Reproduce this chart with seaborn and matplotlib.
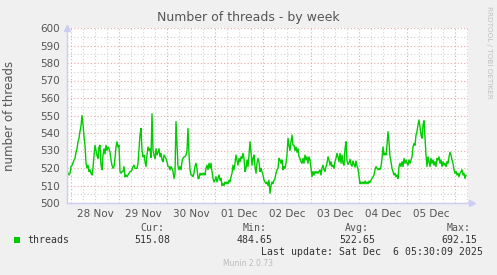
import numpy as np
import pandas as pd
import matplotlib
matplotlib.use("Agg")
import matplotlib.pyplot as plt
import matplotlib.dates as mdates
from matplotlib.ticker import MultipleLocator, NullFormatter
from matplotlib.patches import Rectangle
import seaborn as sns

# ---------------- data (30-minute samples) ----------------
start_time = "2025-11-27 22:00"
threads = [
    519, 517, 516, 517, 520.8, 521.5, 523, 524.5, 525.5, 529, 531, 535, 537, 541, 544, 550,
    545, 538, 533, 522.7, 520, 521.6, 518, 519, 517, 516, 520, 527, 533, 530, 527, 525.5,
    532, 533, 521.6, 519, 527.4, 531, 528, 533, 530, 532, 531, 529, 524.6, 521.6, 519.8, 520.8,
    525.5, 532, 535, 532, 533, 518, 517, 518, 518, 520.8, 515, 516, 515, 516, 517, 518,
    518, 519, 520.8, 521.6, 519.8,
    # crop 2
    519.8, 519.8, 522.7, 531, 538.8, 542.6, 530, 526.4, 527.4, 523.6, 520.8, 527.4, 532, 530,
    531, 526, 551, 530, 527.4, 525.5, 531, 527.4, 529, 531, 526.4, 528.4, 524.6, 523.6, 527.4,
    526.4, 525.5, 523.6, 520.8, 520.8, 519, 520.8, 519.8, 518, 514, 517, 546.5, 533, 521, 519,
    520.8, 519, 523.6, 525.5, 526.4, 526.4, 527.4, 530, 542.6, 528, 519, 516, 516, 515, 517,
    521, 522.7, 519.8, 514, 514, 517, 516, 517, 516,
    # crop 3
    517, 516, 519.8, 521.6, 519, 522.7, 519.8, 522.7, 518, 514, 512, 513, 515, 512, 514, 516,
    513, 514, 510, 511, 510, 512, 511, 512, 511, 513, 512, 515, 517, 521.6, 519, 522.7, 527.4,
    524.6, 521.6, 525.5, 523.6, 526.4, 525.5, 528.4, 525.5, 518, 519.8, 524.6, 520.8, 527.4,
    535, 529, 521.6, 525.5, 527.4, 520.8, 517, 522.7, 525.5, 523.6, 518, 519.8, 518, 516, 513,
    512, 511, 512, 510, 513, 505.5, 510,
    # crop 4
    512, 511, 513, 514, 517, 519, 519.8, 525.5, 524.6, 522.7, 524.6, 519, 520.8, 519.8, 522.7,
    527.4, 537, 533, 530, 535, 538.8, 533, 533, 530, 532, 529, 531, 526.4, 525.5, 523.6, 522.7,
    525.5, 522.7, 527.4, 524.6, 526.4, 522.7, 526.4, 524.6, 519.8, 515, 518, 516, 518, 517, 518,
    517, 518, 519, 516, 519.8, 521.6, 519, 518, 520.8, 522.7, 526.4, 524.6, 521.6, 523.6, 520.8,
    521.6, 519.8, 523.6, 525.5, 528.4, 526.4, 523.6,
    # crop 5
    528.4, 522.7, 527.4, 522.7, 521.6, 531, 535, 524, 522, 523, 525, 522, 521, 524, 522, 520.5,
    524, 521, 519.5, 515, 511, 512, 511, 512, 511, 512.5, 511, 512, 511, 512.5, 511.7, 513, 514,
    515, 516, 519, 520.8, 519.8, 519, 519.8, 519, 520.8, 525.5, 532, 527.4, 528.4, 527.4, 533,
    540.8, 535, 526.4, 523.6, 519.8, 518, 516, 517, 515, 516, 514, 520.8, 522.7, 520.8, 523.6,
    520.8, 525.5, 522.7,
    # crop 6
    524.6, 522.7, 521.6, 524.6, 522.7, 524.6, 526.4, 532, 534, 533, 538.8, 540.8, 544.6, 547.4,
    543.6, 538.8, 537, 544.6, 547, 537, 527.4, 520.8, 526.4, 523.6, 520.8, 525.5, 522.7, 524.6,
    521.6, 523.6, 520.8, 525.5, 524.6, 526.4, 522.7, 524.6, 520.8, 523.6, 521.6, 522.7, 520.8,
    523.6, 522.7, 526.4, 529, 527.4, 524.6, 522.7, 519, 517, 518, 516, 517, 515, 517, 518, 519,
    516, 517, 514, 516,
]
day_labels = ["28 Nov", "29 Nov", "30 Nov", "01 Dec", "02 Dec", "03 Dec", "04 Dec", "05 Dec"]
first_label_day = "2025-11-28"
y_ticks = [500, 510, 520, 530, 540, 550, 560, 570, 580, 590, 600]
stat_names = ["Cur:", "Min:", "Avg:", "Max:"]
stat_values = ["515.08", "484.65", "522.65", "692.15"]
series_name = "threads"
last_update = "Last update: Sat Dec  6 05:30:09 2025"

times = pd.date_range(start_time, periods=len(threads), freq="30min")
df = pd.DataFrame({"time": times, "threads": threads})

# ---------------- figure ----------------
sns.set_style("white")
plt.rcParams["font.family"] = ["DejaVu Sans"]

W, H = 497, 275
fig = plt.figure(figsize=(W / 100, H / 100), dpi=100, facecolor="#f0f0f0")
L, R, T, B = 67, 468, 28, 203
ax = fig.add_axes([L / W, 1 - B / H, (R - L) / W, (B - T) / H])
ax.set_facecolor("white")

sns.lineplot(data=df, x="time", y="threads", ax=ax, color="#00cc00", linewidth=1.0)

x0 = times[0]
ax.set_xlim(x0, x0 + pd.Timedelta(minutes=30 * 401))
ax.set_ylim(500, 600)

# grid
red = "#e9a8a8"
grey = "#d2d2d2"
ax.xaxis.set_major_locator(mdates.DayLocator())
ax.xaxis.set_minor_locator(mdates.HourLocator(byhour=[6, 12, 18]))
ax.xaxis.set_major_formatter(NullFormatter())
ax.xaxis.set_minor_formatter(NullFormatter())
ax.set_yticks(y_ticks)
ax.yaxis.set_minor_locator(MultipleLocator(5))
ax.grid(which="minor", color=grey, linestyle=(0, (1, 2)), linewidth=0.8)
ax.grid(which="major", color=red, linestyle=(0, (1, 2)), linewidth=0.8)
ax.set_axisbelow(True)
ax.tick_params(axis="x", which="both", length=0)
ax.tick_params(axis="y", which="major", length=2, color="#aaaaaa", labelsize=7.5,
               labelcolor="#555555", pad=3)
ax.tick_params(axis="y", which="minor", length=1.5, color="#cccccc")

# day labels at noon
sec = ax.secondary_xaxis("bottom")
noon = [pd.Timestamp(first_label_day) + pd.Timedelta(days=i, hours=12) for i in range(len(day_labels))]
sec.set_xticks(noon, labels=day_labels)
sec.tick_params(length=0, labelsize=7.5, labelcolor="#555555", pad=4)
sec.spines["bottom"].set_visible(False)

for s in ["top", "right"]:
    ax.spines[s].set_visible(False)
axis_col = "#ccccf5"
for s in ["left", "bottom"]:
    ax.spines[s].set_color(axis_col)
    ax.spines[s].set_linewidth(1.0)
ax.plot([0], [1.0], marker="^", ms=5, color=axis_col, transform=ax.transAxes, clip_on=False)
ax.plot([1.01], [0], marker=">", ms=5, color=axis_col, transform=ax.transAxes, clip_on=False)

ax.set_xlabel("")
ax.set_ylabel("number of threads", fontsize=8.5, color="#555555")
ax.yaxis.set_label_coords(-(L - 16) / (R - L), 0.5)

# title
fig.text(248.5 / W, 1 - 18 / H, "Number of threads - by week", ha="center", va="center",
         fontsize=9, color="#555555")
# side text
fig.text(489 / W, 1 - 52 / H, "RRDTOOL / TOBI OETIKER", rotation=-90, ha="center", va="center",
         fontsize=5.2, color="#c0c0c0")

# legend block
mono = "DejaVu Sans Mono"
fig.patches.append(Rectangle((14 / W, 1 - 243 / H), 6 / W, 6 / H, transform=fig.transFigure,
                             facecolor="#00cc00", edgecolor="none"))
fig.text(27 / W, 1 - 240 / H, series_name, family=mono, fontsize=7.1, color="#333333",
         ha="left", va="center")
centers = [152, 255, 357, 459]
for cx, n, v in zip(centers, stat_names, stat_values):
    fig.text(cx / W, 1 - 228 / H, n, family=mono, fontsize=7.1, color="#555555",
             ha="center", va="center")
    fig.text(cx / W, 1 - 240 / H, v, family=mono, fontsize=7.1, color="#333333",
             ha="center", va="center")
fig.text(483 / W, 1 - 252 / H, last_update, family=mono, fontsize=7.1, color="#333333",
         ha="right", va="center")
fig.text(248 / W, 1 - 264 / H, "Munin 2.0.73", fontsize=5.5, color="#bbbbbb",
         ha="center", va="center")

fig.savefig("out.png", dpi=100, facecolor=fig.get_facecolor())
